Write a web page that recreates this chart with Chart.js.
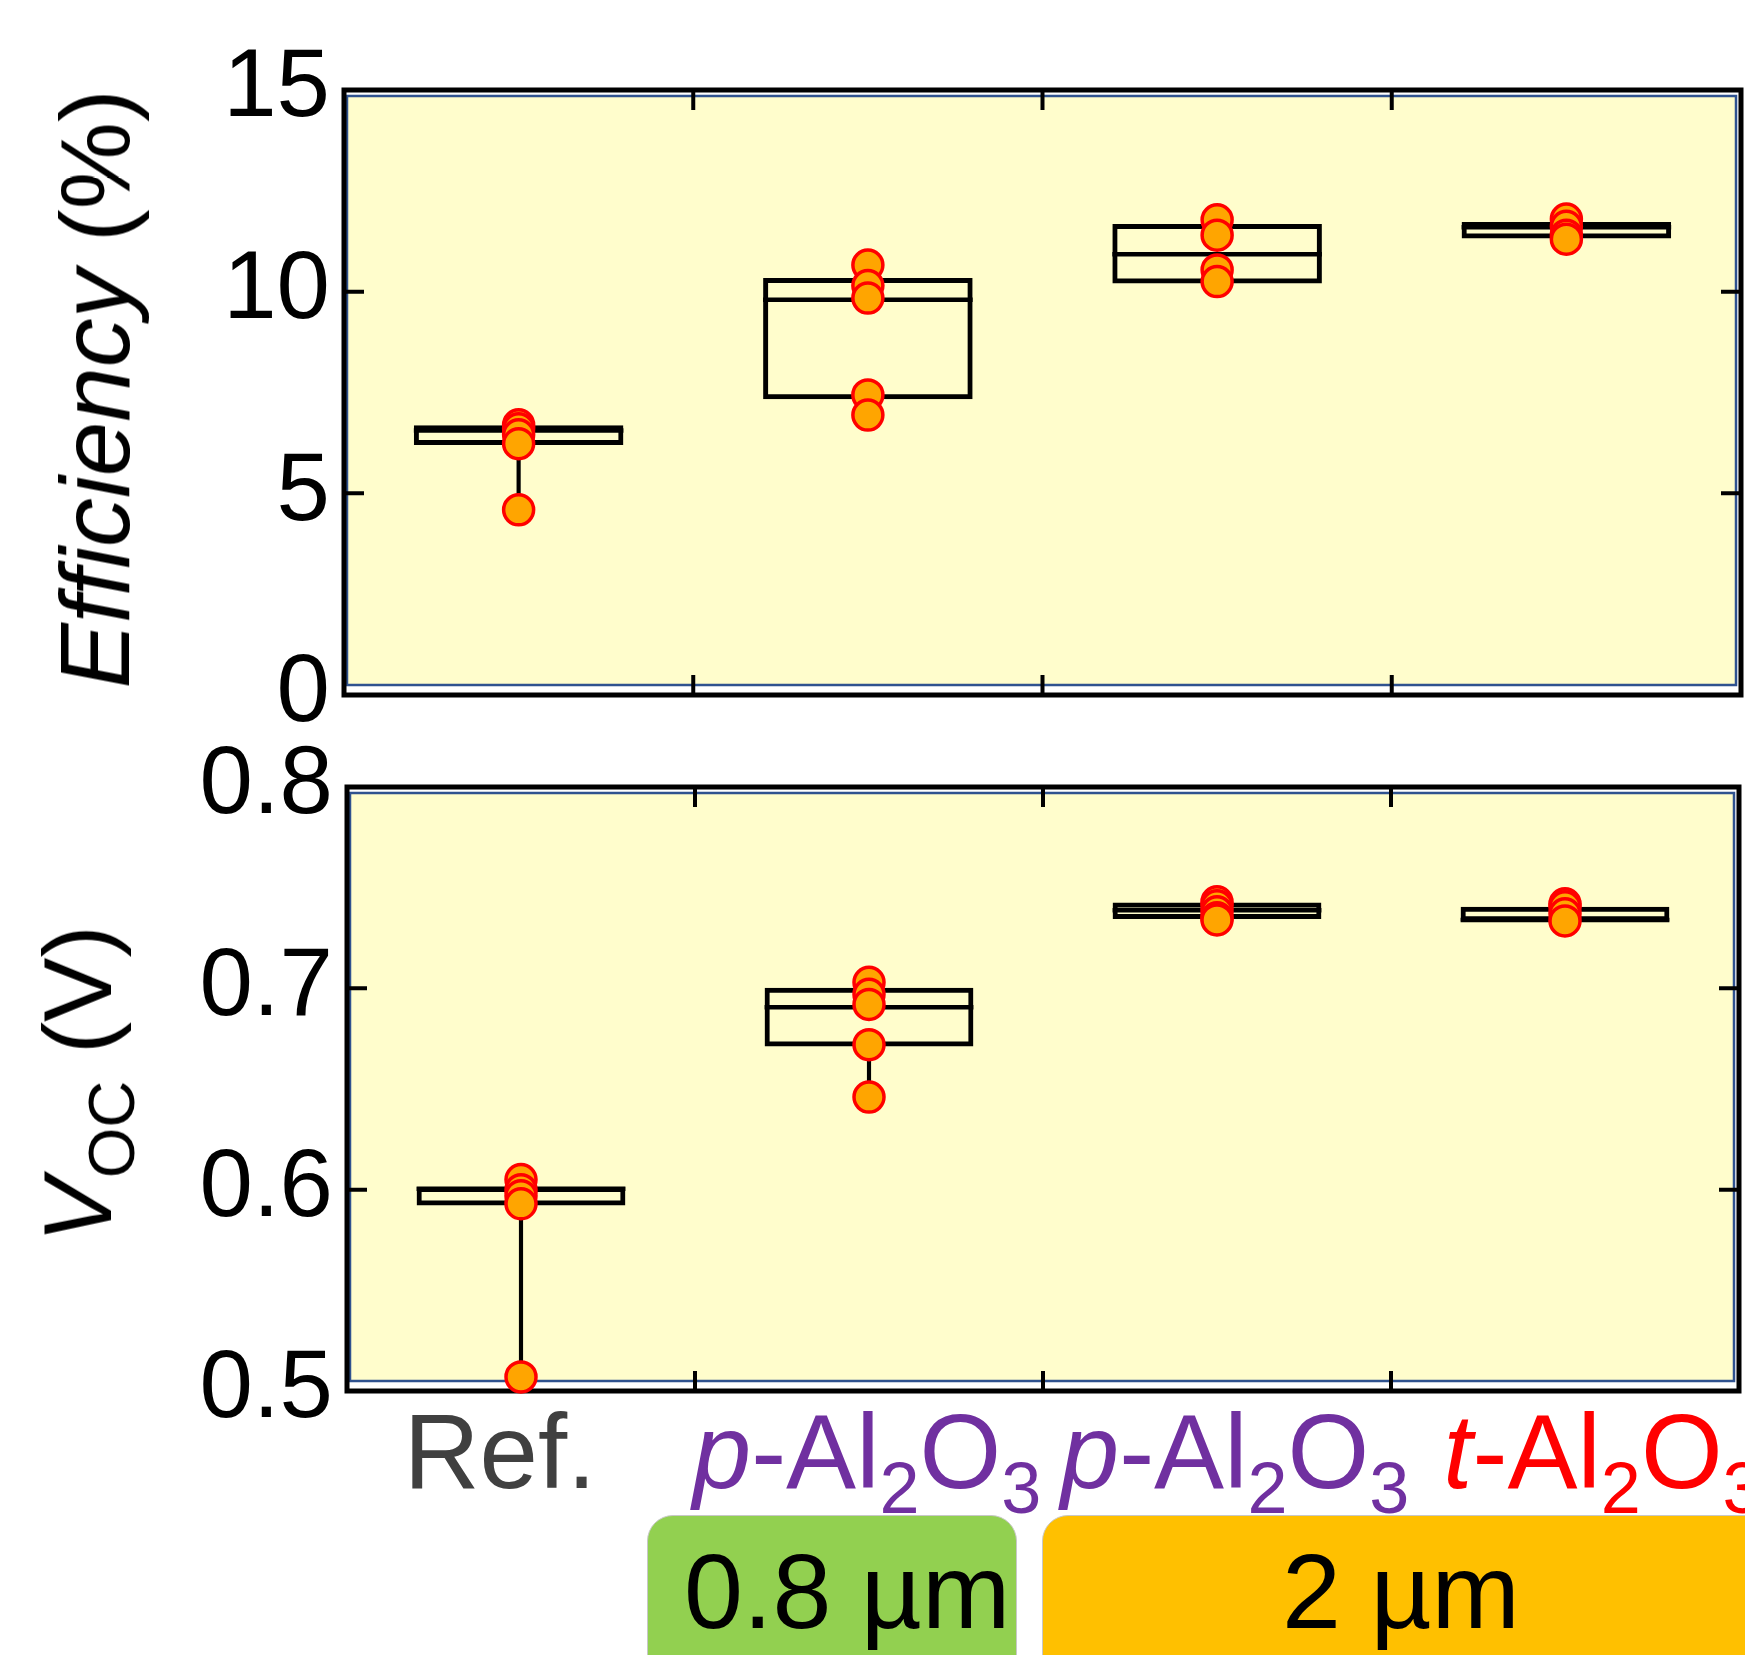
<!DOCTYPE html>
<html><head><meta charset="utf-8">
<script src="https://cdn.jsdelivr.net/npm/chart.js@4.4.0/dist/chart.umd.min.js"></script>
<style>
html,body{margin:0;padding:0;background:#fff;width:1745px;height:1655px;overflow:hidden;position:relative;font-family:'Liberation Sans',Arial,sans-serif;}
canvas{position:absolute;left:0;}
#c1{top:0}
#c2{top:700px}
.xl{position:absolute;top:1399px;font-size:105px;line-height:105px;white-space:nowrap;transform:translateX(-50%);}
.sb{font-size:72px;position:relative;top:25px;}
.yt{position:absolute;height:120px;line-height:120px;font-size:98px;white-space:nowrap;transform:translate(-50%,-50%) rotate(-90deg);color:#000}
.tag{position:absolute;top:1515px;height:220px;border-radius:26px;border:1px solid #c8c8c8;box-sizing:border-box}
.tag span{position:absolute;top:22px;font-size:106px;line-height:106px;color:#000;white-space:nowrap}
</style></head>
<body>
<canvas id="c1" width="1745" height="769"></canvas>
<canvas id="c2" width="1745" height="955"></canvas>
<div class="yt" style="left:95px;top:389px"><i>Efficiency</i> (%)</div>
<div class="yt" style="left:78px;top:1084px;font-size:96.5px"><i>V</i><span style="font-size:65px;position:relative;top:23px">OC</span> (V)</div>
<div class="tag" style="left:647px;width:370px;background:#92D050"><span style="left:36px">0.8 µm</span></div>
<div class="tag" style="left:1042px;width:800px;background:#FFC000"><span style="left:239px">2 µm</span></div>
<script>
// ---------- data ----------
const categories = ['Ref.', 'p-Al2O3 (0.8 µm)', 'p-Al2O3 (2 µm)', 't-Al2O3 (2 µm)'];
const xLabelHTML = ['Ref.', '<i>p</i>-Al<span class="sb">2</span>O<span class="sb">3</span>', '<i>p</i>-Al<span class="sb">2</span>O<span class="sb">3</span>', '<i>t</i>-Al<span class="sb">2</span>O<span class="sb">3</span>'];
const xLabelColors = ['#404040', '#7030A0', '#7030A0', '#FF0000'];

const effMin    = [4.59, 6.94, 10.2, 11.3];
const effQ1     = [6.2, 7.33, 10.2, 11.32];
const effMedian = [6.56, 9.8, 10.93, 11.6];
const effQ3     = [6.69, 10.34, 11.68, 11.73];
const effMax    = [6.7, 10.66, 11.78, 11.8];
const effPoints = [
  [6.7, 6.6, 6.45, 6.23, 4.59],
  [10.66, 10.15, 9.84, 7.44, 6.94],
  [11.78, 11.4, 10.54, 10.25],
  [11.8, 11.62, 11.4, 11.3]
];
const effTicks = [0, 5, 10, 15];
const effTickLabels = ['0', '5', '10', '15'];

const vocMin    = [0.507, 0.646, 0.734, 0.7333];
const vocQ1     = [0.5921, 0.6711, 0.7344, 0.7333];
const vocMedian = [0.6004, 0.6906, 0.7388, 0.734];
const vocQ3     = [0.6013, 0.7003, 0.7426, 0.7405];
const vocMax    = [0.605, 0.703, 0.743, 0.742];
const vocPoints = [
  [0.605, 0.6, 0.597, 0.593, 0.507],
  [0.703, 0.697, 0.692, 0.672, 0.646],
  [0.743, 0.741, 0.738, 0.735, 0.734],
  [0.742, 0.7405, 0.737, 0.7335]
];
const vocTicks = [0.5, 0.6, 0.7, 0.8];
const vocTickLabels = ['0.5', '0.6', '0.7', '0.8'];

// ---------- style / layout ----------
const labelShift = [-21, -2, 18, 38];
const BOX_FRAC = 0.6;

Chart.defaults.font.family = "'Liberation Sans', Arial, sans-serif";
Chart.defaults.color = '#000';

const framePlugin = {
  id: 'frame',
  beforeDatasetsDraw(chart) {
    const {ctx, chartArea: a, scales: {x, y}} = chart;
    ctx.save();
    ctx.fillStyle = '#FFFDCC';
    ctx.fillRect(a.left + 3, a.top + 6, a.width - 8, a.height - 16);
    ctx.strokeStyle = '#2F528F';
    ctx.lineWidth = 2.5;
    ctx.strokeRect(a.left + 3, a.top + 6, a.width - 8, a.height - 16);
    ctx.strokeStyle = '#000';
    ctx.lineWidth = 4;
    ctx.beginPath();
    const n = x.getLabels().length;
    for (let i = 0; i < n - 1; i++) {
      const px = (x.getPixelForValue(i) + x.getPixelForValue(i + 1)) / 2;
      ctx.moveTo(px, a.top); ctx.lineTo(px, a.top + 20);
      ctx.moveTo(px, a.bottom); ctx.lineTo(px, a.bottom - 20);
    }
    y.ticks.forEach(t => {
      const py = y.getPixelForValue(t.value);
      ctx.moveTo(a.left, py); ctx.lineTo(a.left + 20, py);
      ctx.moveTo(a.right, py); ctx.lineTo(a.right - 20, py);
    });
    ctx.stroke();
    ctx.lineWidth = 5;
    ctx.strokeRect(a.left, a.top, a.width, a.height);
    ctx.restore();
  }
};

function halfBox(chart) {
  const xs = chart.scales.x;
  return xs.width / categories.length * BOX_FRAC / 2;
}

function makeChart(id, mins, q1, med, q3, maxs, pts, ticks, tickLabels, pad, axisW) {
  const boxData = categories.map((c, i) => [q1[i], q3[i]]);
  const wLow = categories.map((c, i) => [mins[i], q1[i]]);
  const wHigh = categories.map((c, i) => [q3[i], maxs[i]]);
  const medData = categories.map((c, i) => ({x: c, y: med[i]}));
  const ptData = [];
  pts.forEach((arr, i) => arr.forEach(v => ptData.push({x: categories[i], y: v})));
  return new Chart(document.getElementById(id), {
    type: 'bar',
    data: {
      labels: categories,
      datasets: [
        {type: 'line', data: ptData, showLine: false, pointRadius: 15, pointBorderWidth: 3.5,
         pointBackgroundColor: '#FFA500', pointBorderColor: '#FF0000', clip: false, order: 0},
        {type: 'line', data: medData, showLine: false, pointStyle: 'line',
         pointRadius: ctx => halfBox(ctx.chart), pointBorderWidth: 4.5, pointBorderColor: '#000', clip: false, order: 1},
        {data: boxData, backgroundColor: 'rgba(0,0,0,0)', borderColor: '#000', borderWidth: 5,
         borderSkipped: false, barPercentage: BOX_FRAC, categoryPercentage: 1, grouped: false, order: 2},
        {data: wLow, backgroundColor: '#000', barThickness: 3.5, grouped: false, order: 3},
        {data: wHigh, backgroundColor: '#000', barThickness: 3.5, grouped: false, order: 3}
      ]
    },
    options: {
      responsive: false, animation: false, events: [], devicePixelRatio: 1,
      layout: {padding: pad, autoPadding: false},
      plugins: {legend: {display: false}, tooltip: {enabled: false}},
      scales: {
        x: {display: false, offset: true},
        y: {
          min: ticks[0], max: ticks[ticks.length - 1],
          afterBuildTicks: s => { s.ticks = ticks.map(v => ({value: v})); },
          afterFit: s => { s.width = axisW; },
          ticks: {callback: (v, i) => tickLabels[i], font: {size: 96}, color: '#000', padding: 14},
          grid: {display: false, drawTicks: false},
          border: {display: false}
        }
      }
    },
    plugins: [framePlugin]
  });
}

const chart1 = makeChart('c1', effMin, effQ1, effMedian, effQ3, effMax, effPoints, effTicks, effTickLabels,
  {top: 90, right: 4, bottom: 74, left: 0}, 344);
const chart2 = makeChart('c2', vocMin, vocQ1, vocMedian, vocQ3, vocMax, vocPoints, vocTicks, vocTickLabels,
  {top: 87, right: 6, bottom: 264, left: 0}, 347);

const xs2 = chart2.scales.x;
xLabelHTML.forEach((html, i) => {
  const d = document.createElement('div');
  d.className = 'xl';
  d.innerHTML = html;
  d.style.color = xLabelColors[i];
  d.style.left = (xs2.getPixelForValue(i) + labelShift[i]) + 'px';
  document.body.appendChild(d);
});
</script>
</body></html>
